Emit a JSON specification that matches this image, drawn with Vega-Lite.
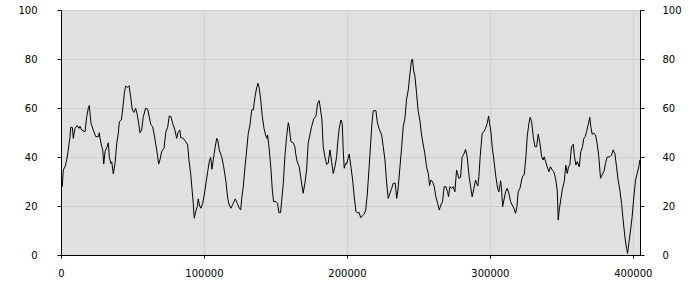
{
  "$schema": "https://vega.github.io/schema/vega-lite/v6.json",
  "width": 579,
  "height": 245,
  "autosize": "none",
  "padding": {"left": 61, "top": 10, "right": 60, "bottom": 45},
  "background": "white",
  "config": {
    "view": {"fill": "#e0e0e0", "stroke": "black", "strokeWidth": 1},
    "axis": {
      "labelFont": "DejaVu Sans",
      "labelFontSize": 10,
      "labelColor": "black",
      "domainColor": "black",
      "tickColor": "black",
      "tickSize": 4,
      "gridColor": "#cfcfcf",
      "title": null
    }
  },
  "data": {"values": [
    {"x":900,"y":27.9},{"x":1600,"y":34.7},{"x":2800,"y":36},{"x":4000,"y":38.8},{"x":5100,"y":42.9},{"x":6300,"y":48.3},{"x":6800,"y":52.1},{"x":7900,"y":52.1},{"x":8600,"y":47.6},{"x":9800,"y":51.7},
    {"x":11400,"y":52.8},{"x":12600,"y":51.7},{"x":13300,"y":52.5},{"x":14500,"y":51},{"x":16800,"y":50.3},{"x":18000,"y":56.5},{"x":19100,"y":59.9},{"x":19800,"y":61},{"x":20300,"y":57.8},{"x":21000,"y":53.7},
    {"x":22600,"y":51},{"x":24300,"y":48.3},{"x":26100,"y":48.3},{"x":26800,"y":49.9},{"x":27300,"y":47.7},{"x":28500,"y":44.2},{"x":29200,"y":42.9},{"x":29900,"y":37.1},{"x":30800,"y":42.2},{"x":32000,"y":43.8},
    {"x":33100,"y":45.8},{"x":33800,"y":40.1},{"x":34800,"y":37.4},{"x":35500,"y":38},{"x":36600,"y":33.1},{"x":37800,"y":37.4},{"x":39000,"y":45.6},{"x":40100,"y":49.7},{"x":40800,"y":54.4},{"x":42200,"y":55.1},
    {"x":43100,"y":59.2},{"x":44300,"y":66},{"x":45200,"y":69},{"x":46600,"y":68.4},{"x":47600,"y":69.1},{"x":48700,"y":64.6},{"x":49900,"y":59.2},{"x":51000,"y":58.2},{"x":52200,"y":59.9},{"x":53400,"y":57.1},
    {"x":54500,"y":53.1},{"x":55200,"y":49.9},{"x":56400,"y":51},{"x":57600,"y":56.5},{"x":59200,"y":59.9},{"x":60600,"y":59.5},{"x":61700,"y":56.5},{"x":62900,"y":53.1},{"x":64100,"y":52.4},{"x":65200,"y":49},
    {"x":66400,"y":44.9},{"x":67600,"y":40.1},{"x":68300,"y":37.1},{"x":69200,"y":38.8},{"x":70400,"y":42.2},{"x":72000,"y":43.5},{"x":73400,"y":50.3},{"x":74600,"y":52.1},{"x":75700,"y":56.7},{"x":76900,"y":56.5},
    {"x":78100,"y":53.7},{"x":79700,"y":51},{"x":80900,"y":47.6},{"x":82000,"y":50.3},{"x":83200,"y":51},{"x":83700,"y":48},{"x":85500,"y":47.6},{"x":87200,"y":46.3},{"x":88600,"y":44.9},{"x":89500,"y":38.8},
    {"x":90700,"y":33.3},{"x":91800,"y":25.8},{"x":92500,"y":21.1},{"x":93200,"y":15},{"x":94200,"y":17.7},{"x":95300,"y":19.7},{"x":96000,"y":22.9},{"x":97000,"y":20},{"x":97900,"y":19.1},{"x":99100,"y":21.1},
    {"x":100200,"y":24.5},{"x":101400,"y":29.3},{"x":102600,"y":34},{"x":103700,"y":38.1},{"x":104700,"y":39.9},{"x":105600,"y":35},{"x":106500,"y":38.8},{"x":107700,"y":43.5},{"x":108900,"y":47.6},{"x":109600,"y":47},
    {"x":110700,"y":42.9},{"x":112400,"y":40.1},{"x":113800,"y":36},{"x":115400,"y":29.9},{"x":116600,"y":23.1},{"x":117700,"y":20.4},{"x":118900,"y":19.1},{"x":120500,"y":21.1},{"x":121900,"y":22.9},{"x":123300,"y":21.1},
    {"x":124700,"y":19.1},{"x":125700,"y":18.4},{"x":126400,"y":23.1},{"x":127500,"y":27.9},{"x":128700,"y":36},{"x":129900,"y":42.9},{"x":131000,"y":49.7},{"x":132200,"y":53.1},{"x":133400,"y":59.2},{"x":134500,"y":59.2},
    {"x":135700,"y":64.6},{"x":136900,"y":68.4},{"x":137800,"y":70.1},{"x":138700,"y":68},{"x":139700,"y":63.3},{"x":140800,"y":56.5},{"x":142000,"y":51.7},{"x":143100,"y":49},{"x":144100,"y":47.6},{"x":144500,"y":49},
    {"x":145700,"y":42.9},{"x":146900,"y":34.7},{"x":147800,"y":26.5},{"x":148700,"y":21.8},{"x":150300,"y":21.8},{"x":151500,"y":21.1},{"x":152400,"y":17.3},{"x":153600,"y":17.3},{"x":154300,"y":21.8},{"x":155500,"y":29.3},
    {"x":156600,"y":40.1},{"x":157800,"y":48.3},{"x":159000,"y":54},{"x":159600,"y":52.4},{"x":160800,"y":46.3},{"x":162400,"y":45.8},{"x":163600,"y":44.2},{"x":164100,"y":41.5},{"x":165200,"y":38.1},{"x":166600,"y":36},
    {"x":167800,"y":31.3},{"x":169400,"y":25.2},{"x":170600,"y":29.3},{"x":171800,"y":34.7},{"x":172900,"y":45.6},{"x":174100,"y":49},{"x":175300,"y":52.4},{"x":176900,"y":55.8},{"x":178300,"y":56.5},{"x":179500,"y":61.9},
    {"x":180600,"y":63},{"x":181600,"y":59.2},{"x":182500,"y":55.1},{"x":183400,"y":44.2},{"x":184600,"y":40.1},{"x":185800,"y":37},{"x":186900,"y":37.4},{"x":188100,"y":42.9},{"x":189300,"y":38.1},{"x":190400,"y":33.3},
    {"x":191600,"y":36},{"x":192800,"y":40.1},{"x":193500,"y":45.6},{"x":194600,"y":51.7},{"x":195800,"y":55.1},{"x":196700,"y":53.7},{"x":197400,"y":42.9},{"x":198100,"y":35.4},{"x":199100,"y":37.4},{"x":199800,"y":37.1},
    {"x":200900,"y":39.5},{"x":201600,"y":41.2},{"x":202800,"y":36},{"x":204000,"y":30.6},{"x":205100,"y":23.8},{"x":206300,"y":17.7},{"x":207500,"y":17.3},{"x":208600,"y":17.3},{"x":209600,"y":15.2},{"x":210700,"y":15.9},
    {"x":211900,"y":16.6},{"x":213100,"y":18.1},{"x":214200,"y":24.5},{"x":215400,"y":34.7},{"x":216600,"y":45.6},{"x":217500,"y":53.7},{"x":218400,"y":58.9},{"x":220300,"y":58.9},{"x":221200,"y":54.4},{"x":222400,"y":51.7},
    {"x":224300,"y":49},{"x":225400,"y":44.2},{"x":226600,"y":38.8},{"x":227800,"y":29.3},{"x":228900,"y":23.1},{"x":230100,"y":25.2},{"x":231300,"y":27.2},{"x":232400,"y":29.3},{"x":233800,"y":29.3},{"x":234800,"y":23.1},
    {"x":235700,"y":26.5},{"x":237100,"y":36},{"x":238300,"y":44.2},{"x":239400,"y":52.4},{"x":240600,"y":56},{"x":241700,"y":63.5},{"x":242900,"y":67.3},{"x":244100,"y":74.1},{"x":245200,"y":79.6},{"x":245900,"y":79.9},
    {"x":246600,"y":75.5},{"x":247600,"y":72.8},{"x":248700,"y":66},{"x":249900,"y":58.5},{"x":251000,"y":55.1},{"x":252200,"y":49},{"x":253400,"y":44.9},{"x":254500,"y":41.5},{"x":255700,"y":36},{"x":256900,"y":33.3},
    {"x":257800,"y":28.3},{"x":258700,"y":30.6},{"x":259900,"y":29.9},{"x":261100,"y":27.9},{"x":262200,"y":23.8},{"x":263400,"y":21.1},{"x":264600,"y":18.4},{"x":265700,"y":20.4},{"x":266900,"y":21.8},{"x":268000,"y":27.9},
    {"x":269200,"y":27.9},{"x":270400,"y":25.8},{"x":271100,"y":23.8},{"x":272000,"y":27.9},{"x":273200,"y":27.2},{"x":274300,"y":27.9},{"x":275500,"y":25.8},{"x":276700,"y":34.7},{"x":277400,"y":33.3},{"x":278300,"y":31.3},
    {"x":279500,"y":31.7},{"x":280600,"y":40.1},{"x":281800,"y":41.2},{"x":283000,"y":43.1},{"x":284100,"y":40.1},{"x":285500,"y":32},{"x":286500,"y":27.9},{"x":287600,"y":23.8},{"x":288800,"y":27.2},{"x":290000,"y":30.6},
    {"x":290700,"y":29.3},{"x":291600,"y":28.2},{"x":292300,"y":32},{"x":293200,"y":40.1},{"x":294600,"y":49.7},{"x":295800,"y":50.3},{"x":297000,"y":51.7},{"x":298100,"y":53.7},{"x":299100,"y":56.7},{"x":299800,"y":53.7},
    {"x":300700,"y":50.3},{"x":301600,"y":44.2},{"x":302800,"y":38.8},{"x":304000,"y":32.7},{"x":305400,"y":27.2},{"x":306300,"y":25.8},{"x":307500,"y":30.3},{"x":308200,"y":26.5},{"x":308900,"y":19.7},{"x":309800,"y":22.4},
    {"x":311000,"y":25.8},{"x":312100,"y":27.2},{"x":313300,"y":25.2},{"x":314500,"y":21.8},{"x":315600,"y":20.4},{"x":316800,"y":19.1},{"x":318000,"y":17},{"x":318900,"y":19.7},{"x":319800,"y":25.8},{"x":321000,"y":27.2},
    {"x":322200,"y":30.6},{"x":322900,"y":32.2},{"x":324000,"y":32.7},{"x":325200,"y":40.1},{"x":326100,"y":48.3},{"x":327300,"y":53.7},{"x":328200,"y":56.2},{"x":329200,"y":54.4},{"x":330300,"y":48.3},{"x":331500,"y":44.2},
    {"x":332700,"y":44.2},{"x":333800,"y":49.4},{"x":335000,"y":45.6},{"x":336200,"y":40.1},{"x":337300,"y":38.8},{"x":338000,"y":40.1},{"x":339000,"y":38.1},{"x":340100,"y":36},{"x":341300,"y":34},{"x":342400,"y":36},
    {"x":343600,"y":34.7},{"x":344700,"y":34},{"x":345900,"y":31.3},{"x":347100,"y":26.5},{"x":347800,"y":14.3},{"x":348500,"y":18.4},{"x":349700,"y":23.1},{"x":350800,"y":27.2},{"x":352000,"y":29.9},{"x":353100,"y":36.7},
    {"x":354100,"y":33.3},{"x":355000,"y":36},{"x":355900,"y":36.7},{"x":357100,"y":44.2},{"x":358300,"y":45.2},{"x":359200,"y":40.1},{"x":360100,"y":36.7},{"x":361100,"y":38.1},{"x":362500,"y":36},{"x":363600,"y":42.2},
    {"x":364800,"y":44.2},{"x":365700,"y":47.6},{"x":366700,"y":48.3},{"x":367600,"y":50.3},{"x":368700,"y":53.1},{"x":369900,"y":56.2},{"x":370600,"y":52.4},{"x":371500,"y":49.3},{"x":372700,"y":49.7},{"x":373900,"y":49},
    {"x":375000,"y":45.6},{"x":376200,"y":40.1},{"x":377400,"y":31.3},{"x":378500,"y":32.7},{"x":379700,"y":34},{"x":380900,"y":37.4},{"x":382000,"y":39.9},{"x":383900,"y":40.1},{"x":385100,"y":40.8},{"x":386200,"y":42.9},
    {"x":387400,"y":41.5},{"x":388600,"y":36},{"x":389700,"y":30.6},{"x":390900,"y":26.5},{"x":392100,"y":21.1},{"x":393200,"y":14.3},{"x":394400,"y":7.5},{"x":395600,"y":2.7},{"x":396300,"y":0.7},{"x":397200,"y":4.8},
    {"x":398400,"y":10.2},{"x":399500,"y":15.6},{"x":400700,"y":23.8},{"x":401900,"y":30.6},{"x":403000,"y":33.3},{"x":404200,"y":36},{"x":404900,"y":38.8}
  ]},
  "layer": [
    {
      "mark": {"type": "line", "color": "black", "strokeWidth": 1, "clip": true},
      "encoding": {
        "x": {"field": "x", "type": "quantitative",
              "scale": {"domain": [0, 405000], "nice": false, "zero": false},
              "axis": {"values": [0, 100000, 200000, 300000, 400000], "format": "d", "tickSize": 3, "labelPadding": 10, "labelFlush": false, "grid": true}},
        "y": {"field": "y", "type": "quantitative",
              "scale": {"domain": [0, 100], "nice": false},
              "axis": {"orient": "left", "values": [0, 20, 40, 60, 80, 100], "labelAlign": "right", "labelPadding": 20, "grid": true}}
      }
    },
    {
      "mark": {"type": "line", "color": "black", "strokeOpacity": 0},
      "encoding": {
        "x": {"field": "x", "type": "quantitative"},
        "y": {"field": "y", "type": "quantitative",
              "axis": {"orient": "right", "values": [0, 20, 40, 60, 80, 100], "labelAlign": "left", "labelPadding": 18, "grid": false}}
      }
    }
  ],
  "resolve": {"axis": {"y": "independent"}}
}
